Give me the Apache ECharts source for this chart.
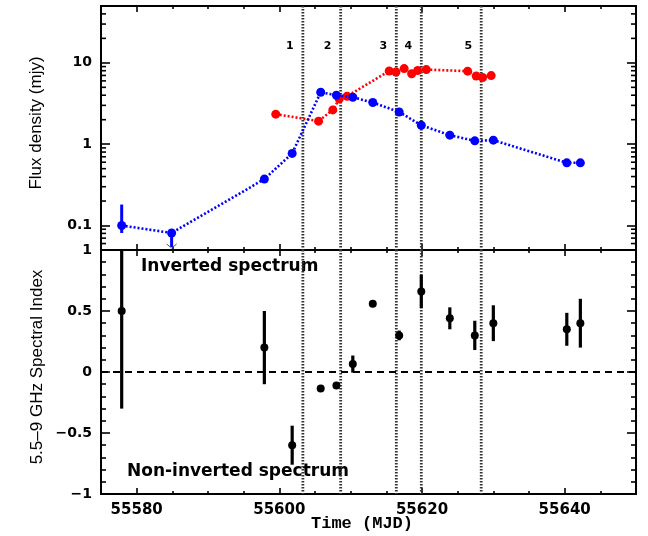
<!DOCTYPE html>
<html><head><meta charset="utf-8">
<script src="https://cdn.jsdelivr.net/npm/echarts@6/dist/echarts.min.js"></script>
<style>html,body{margin:0;padding:0;background:#fff}#c{width:648px;height:536px}</style>
</head><body><div id="c"></div>
<script>
// ---- Data ----
const blueMjd  = [55577.9, 55584.9, 55597.9, 55601.8, 55605.8, 55608.0, 55610.3, 55613.1, 55616.8, 55619.9, 55623.9, 55627.4, 55630.0, 55640.3, 55642.2];
const blueFlux = [0.100, 0.081, 0.372, 0.77, 4.35, 4.0, 3.78, 3.25, 2.49, 1.71, 1.29, 1.10, 1.12, 0.59, 0.59];
const blueErrMjd = [55577.9];
const blueErrLo  = [0.081];
const blueErrHi  = [0.181];
const upperLimitMjd  = [55584.9];
const upperLimitFlux = [0.081];

const redMjd  = [55599.5, 55605.5, 55607.5, 55608.4, 55609.5, 55615.4, 55616.35, 55617.5, 55618.55, 55619.4, 55620.6, 55626.4, 55627.6, 55628.5, 55629.7];
const redFlux = [2.34, 1.92, 2.64, 3.6, 3.89, 7.94, 7.72, 8.5, 7.33, 8.04, 8.27, 7.9, 6.9, 6.6, 6.97];

const idxMjd = [55577.9, 55597.9, 55601.8, 55605.8, 55608.0, 55610.3, 55613.1, 55616.8, 55619.9, 55623.9, 55627.4, 55630.0, 55640.3, 55642.2];
const idxVal = [0.50, 0.20, -0.60, -0.135, -0.11, 0.065, 0.56, 0.30, 0.66, 0.44, 0.30, 0.40, 0.35, 0.40];
const idxErr = [0.80, 0.30, 0.16, 0.015, 0.02, 0.07, 0.015, 0.04, 0.135, 0.09, 0.12, 0.147, 0.135, 0.20];

const epochMjd    = [55603.3, 55608.6, 55616.4, 55619.9, 55628.3];
const epochLabels = ['1', '2', '3', '4', '5'];

const xMin = 55575, xMax = 55650;
const fluxMin = 0.05, fluxMax = 50;
const idxMin = -1, idxMax = 1;

// ---- Build ----
const chart = echarts.init(document.getElementById('c'), null, { renderer: 'canvas' });
const zip = (a, b) => a.map((v, i) => [v, b[i]]);
const logMinor = [];
[0.01, 0.1, 1, 10].forEach(d => { for (let m = 2; m <= 9; m++) { const v = +(m * d).toPrecision(3); if (v > fluxMin && v < fluxMax) logMinor.push([xMin, v]); } });

const tickFont = 'DejaVu Sans';
function clampY(cs, y) { return Math.max(cs.y, Math.min(cs.y + cs.height, y)); }

function errRender(color, width) {
  return function (params, api) {
    const cs = params.coordSys;
    const p1 = api.coord([api.value(0), api.value(1)]);
    const p2 = api.coord([api.value(0), api.value(2)]);
    return { type: 'line', shape: { x1: p1[0], y1: clampY(cs, p1[1]), x2: p2[0], y2: clampY(cs, p2[1]) },
      style: { stroke: color, lineWidth: width } };
  };
}

function vlineRender(withLabel, refY) {
  return function (params, api) {
    const cs = params.coordSys;
    const x = api.coord([api.value(0), refY])[0];
    const children = [{ type: 'line', shape: { x1: x, y1: cs.y, x2: x, y2: cs.y + cs.height },
      style: { stroke: '#333', lineWidth: 2.8, lineDash: [1.5, 1.5] } }];
    if (withLabel) {
      const y = api.coord([api.value(0), 16])[1];
      children.push({ type: 'text', x: x - 13, y: y,
        style: { text: epochLabels[params.dataIndex], fill: '#000', font: 'bold 11px "DejaVu Sans"', align: 'center', verticalAlign: 'middle' } });
    }
    return { type: 'group', children };
  };
}

function xAx(grid, pos, labels) {
  return {
    type: 'value', gridIndex: grid, position: pos, min: xMin, max: xMax, splitNumber: 4,
    axisLine: { show: false, onZero: false },
    axisTick: { show: true, inside: true, length: 6, lineStyle: { color: '#000', width: 1.6 } },
    minorTick: { show: true, splitNumber: 4, length: 3, lineStyle: { color: '#000', width: 1.6 } },
    splitLine: { show: false }, minorSplitLine: { show: false },
    axisLabel: { show: labels, showMinLabel: false, showMaxLabel: false, margin: 9, color: '#000',
      fontFamily: tickFont, fontWeight: 'bold', fontSize: 15, formatter: v => String(v) }
  };
}

function yAxLin(pos, labels) {
  return { type: 'value', gridIndex: 1, position: pos, min: idxMin, max: idxMax, interval: 0.5,
    axisLine: { show: false, onZero: false }, splitLine: { show: false }, minorSplitLine: { show: false },
    axisTick: { show: true, inside: true, length: 9, lineStyle: { color: '#000', width: 1.6 } },
    minorTick: { show: true, splitNumber: 5, length: 5, lineStyle: { color: '#000', width: 1.6 } },
    axisLabel: { show: labels, margin: 9, color: '#000', fontFamily: tickFont, fontWeight: 'bold', fontSize: 14,
      formatter: v => v < 0 ? '\u2212' + Math.abs(v) : String(v) } };
}
function yAxLog(pos, labels) {
  return { type: 'log', logBase: 10, gridIndex: 0, position: pos, min: fluxMin, max: fluxMax,
    axisLine: { show: false, onZero: false }, splitLine: { show: false },
    axisTick: { show: true, inside: true, length: 9, lineStyle: { color: '#000', width: 1.6 } },
    axisLabel: { show: labels, margin: 9, color: '#000', fontFamily: tickFont, fontWeight: 'bold', fontSize: 14,
      formatter: v => Math.abs(v - 0.1) < 1e-9 ? '0.1' : Math.abs(v - 1) < 1e-9 ? '1' : Math.abs(v - 10) < 1e-9 ? '10' : '' } };
}

const option = {
  animation: false,
  backgroundColor: '#fff',
  grid: [
    { left: 101, right: 12, top: 6, height: 244, show: true, borderColor: '#000', borderWidth: 2, backgroundColor: 'transparent', containLabel: false, outerBoundsMode: 'none' },
    { left: 101, right: 12, top: 250, height: 244, show: true, borderColor: '#000', borderWidth: 2, backgroundColor: 'transparent', containLabel: false, outerBoundsMode: 'none' }
  ],
  xAxis: [xAx(0, 'bottom', false), xAx(0, 'top', false), xAx(1, 'bottom', true), xAx(1, 'top', false)],
  yAxis: [yAxLog('left', true), yAxLog('right', false), yAxLin('left', true), yAxLin('right', false)],
  series: [
    { type: 'custom', xAxisIndex: 0, yAxisIndex: 0, silent: true, data: logMinor, z: 1,
      renderItem: function (params, api) {
        const cs = params.coordSys;
        const y = api.coord([api.value(0), api.value(1)])[1];
        return { type: 'group', children: [
          { type: 'line', shape: { x1: cs.x, y1: y, x2: cs.x + 5, y2: y }, style: { stroke: '#000', lineWidth: 1.6 } },
          { type: 'line', shape: { x1: cs.x + cs.width - 5, y1: y, x2: cs.x + cs.width, y2: y }, style: { stroke: '#000', lineWidth: 1.6 } }
        ] };
      } },
    { type: 'custom', xAxisIndex: 0, yAxisIndex: 0, silent: true, data: epochMjd.map(t => [t]), z: 2,
      renderItem: vlineRender(true, 1) },
    { type: 'custom', xAxisIndex: 2, yAxisIndex: 2, silent: true, data: epochMjd.map(t => [t]), z: 2,
      renderItem: vlineRender(false, 0) },
    { type: 'custom', xAxisIndex: 0, yAxisIndex: 0, silent: true, z: 4,
      data: blueErrMjd.map((t, i) => [t, blueErrLo[i], blueErrHi[i]]), renderItem: errRender('#0000ff', 3) },
    { type: 'custom', xAxisIndex: 0, yAxisIndex: 0, silent: true, z: 4,
      data: zip(upperLimitMjd, upperLimitFlux),
      renderItem: function (params, api) {
        const cs = params.coordSys;
        const p = api.coord([api.value(0), api.value(1)]);
        const b = cs.y + cs.height;
        return { type: 'group', children: [
          { type: 'line', shape: { x1: p[0], y1: p[1], x2: p[0], y2: b - 3 }, style: { stroke: '#0000ff', lineWidth: 3 } },
          { type: 'polyline', shape: { points: [[p[0] - 5, b - 6], [p[0], b - 2], [p[0] + 5, b - 6]] }, style: { stroke: '#555', lineWidth: 1, fill: null } }
        ] };
      } },
    { type: 'line', name: 'red', xAxisIndex: 0, yAxisIndex: 0, data: zip(redMjd, redFlux), z: 5,
      symbol: 'circle', symbolSize: 9, itemStyle: { color: '#ff0000', opacity: 1 },
      lineStyle: { color: '#ff0000', width: 2.6, type: [2, 2] } },
    { type: 'line', name: 'blue', xAxisIndex: 0, yAxisIndex: 0, data: zip(blueMjd, blueFlux), z: 6,
      symbol: 'circle', symbolSize: 9, itemStyle: { color: '#0000ff', opacity: 1 },
      lineStyle: { color: '#0000ff', width: 2.6, type: [2, 2] } },
    { type: 'custom', xAxisIndex: 2, yAxisIndex: 2, silent: true, z: 4,
      data: idxMjd.map((t, i) => [t, idxVal[i] - idxErr[i], idxVal[i] + idxErr[i]]), renderItem: errRender('#000', 3.2) },
    { type: 'scatter', xAxisIndex: 2, yAxisIndex: 2, data: zip(idxMjd, idxVal), z: 5,
      symbol: 'circle', symbolSize: 8, itemStyle: { color: '#000', opacity: 1 },
      markLine: { silent: true, symbol: 'none', label: { show: false },
        lineStyle: { color: '#000', width: 2, type: [7, 5] }, data: [{ yAxis: 0 }] } }
  ],
  graphic: [
    { type: 'text', x: 141, y: 267, style: { text: 'Inverted spectrum', font: 'bold 17px "DejaVu Sans"', fill: '#000', verticalAlign: 'middle' } },
    { type: 'text', x: 127, y: 472, style: { text: 'Non-inverted spectrum', font: 'bold 17px "DejaVu Sans"', fill: '#000', verticalAlign: 'middle' } },
    { type: 'text', x: 362, y: 524, style: { text: 'Time (MJD)', font: 'bold 17px "Liberation Mono"', fill: '#000', align: 'center', verticalAlign: 'middle' } },
    { type: 'text', x: 36, y: 123, rotation: Math.PI / 2, style: { text: 'Flux density (mjy)', font: '17px "Liberation Sans"', fill: '#000', align: 'center', verticalAlign: 'middle' } },
    { type: 'text', x: 37, y: 367, rotation: Math.PI / 2, style: { text: '5.5\u20139 GHz Spectral Index', font: '17px "Liberation Sans"', fill: '#000', align: 'center', verticalAlign: 'middle' } }
  ]
};
chart.setOption(option);
</script></body></html>
